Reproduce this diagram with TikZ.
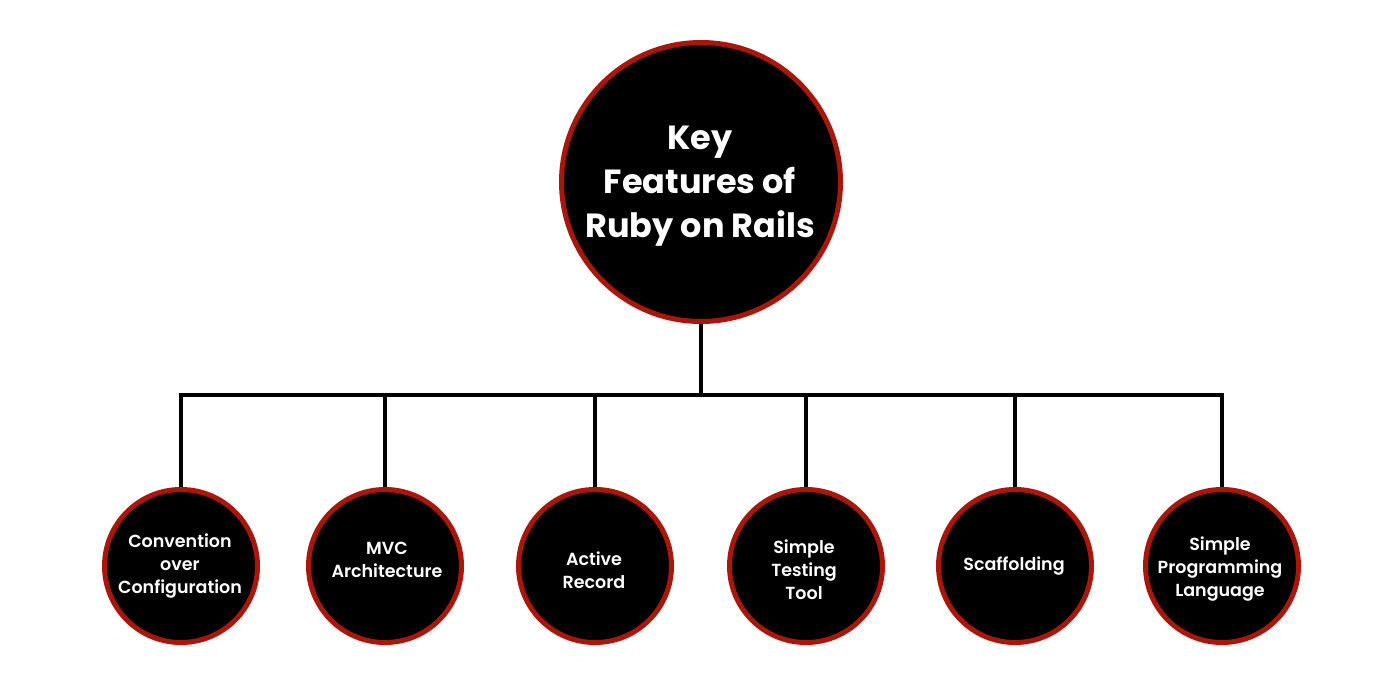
\documentclass[tikz,border=0pt]{standalone}
\usepackage{fontspec}
\setmainfont{Poppins}
\newfontfamily\popsemi{Poppins SemiBold}
\usetikzlibrary{backgrounds}
\definecolor{ringred}{RGB}{170,22,10}
\begin{document}
\begin{tikzpicture}[x=1pt,y=-1pt,
  bigcircle/.style={circle,fill=black,draw=ringred,line width=5pt,minimum size=279pt,inner sep=0pt},
  smallcircle/.style={circle,fill=black,draw=ringred,line width=5pt,minimum size=153pt,inner sep=0pt},
  bigtext/.style={text=white,align=center,inner sep=0pt,font=\fontsize{33.5}{44}\selectfont\bfseries},
  smalltext/.style={text=white,align=center,inner sep=0pt,font=\fontsize{17.5}{23}\selectfont\popsemi},
  link/.style={line width=4.5pt,black,line join=miter}]
\useasboundingbox (0,0) rectangle (1400,700);
\node[bigcircle] (main) at (701,182) {};
\node[smallcircle] (c1) at (181,566) {};
\node[smallcircle] (c2) at (385,566) {};
\node[smallcircle] (c3) at (595,566) {};
\node[smallcircle] (c4) at (806,566) {};
\node[smallcircle] (c5) at (1015,566) {};
\node[smallcircle] (c6) at (1222,566) {};
\coordinate (hub) at (701,395);
\node[bigtext] (t0) at (700,186) {Key\\Features of\\Ruby on Rails};
\node[smalltext] (t1) at (180,566) {Convention\\over\\Configuration};
\node[smalltext] (t2) at (387,560) {MVC\\Architecture};
\node[smalltext] (t3) at (594,570) {Active\\Record};
\node[smalltext] (t4) at (804,570) {Simple\\Testing\\Tool};
\node[smalltext] (t5) at (1014,566) {Scaffolding};
\node[smalltext] (t6) at (1220,569) {Simple\\Programming\\Language};
\begin{scope}[on background layer]
\draw[link] (main.south) -- (hub);
\draw[link] (c1.north) -- (c1.north |- hub) -- (c6.north |- hub) -- (c6.north);
\foreach \c in {c2,c3,c4,c5} {\draw[link] (\c.north |- hub) -- (\c.north);}
\end{scope}
\end{tikzpicture}
\end{document}
